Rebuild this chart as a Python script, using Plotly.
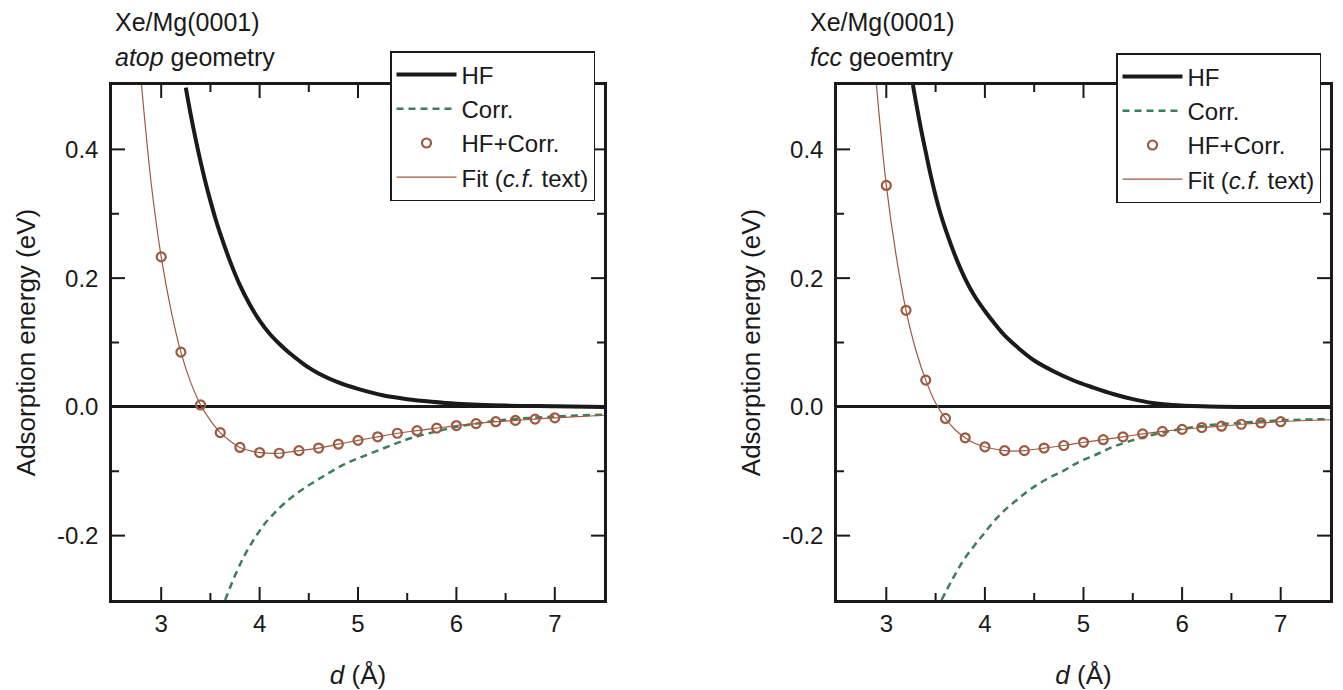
import plotly.graph_objects as go

# ---------------- data ----------------
d_points = [3.0, 3.2, 3.4, 3.6, 3.8, 4.0, 4.2, 4.4, 4.6, 4.8, 5.0,
            5.2, 5.4, 5.6, 5.8, 6.0, 6.2, 6.4, 6.6, 6.8, 7.0]

# atop geometry
atop_total = [0.233, 0.085, 0.003, -0.040, -0.063, -0.071, -0.072, -0.068, -0.064, -0.058, -0.052,
              -0.0465, -0.041, -0.037, -0.033, -0.029, -0.026, -0.023, -0.021, -0.019, -0.017]
atop_fit_d = [2.80, 2.90, 3.0, 3.1, 3.2, 3.3, 3.4, 3.5, 3.6, 3.7, 3.8, 3.9, 4.0, 4.2, 4.4, 4.6, 4.8,
              5.0, 5.2, 5.4, 5.6, 5.8, 6.0, 6.2, 6.4, 6.6, 6.8, 7.0, 7.5]
atop_fit = [0.50, 0.345, 0.233, 0.150, 0.085, 0.038, 0.003, -0.021, -0.040, -0.053, -0.063, -0.068,
            -0.071, -0.072, -0.068, -0.064, -0.058, -0.052, -0.0465, -0.041, -0.037, -0.033,
            -0.029, -0.026, -0.023, -0.021, -0.019, -0.017, -0.013]
atop_hf_d = [3.25, 3.30, 3.35, 3.40, 3.45, 3.50, 3.55, 3.60, 3.70, 3.80, 3.90, 4.00, 4.10, 4.20,
             4.30, 4.40, 4.50, 4.60, 4.80, 5.00, 5.25, 5.50, 5.75, 6.00, 6.50, 7.00, 7.50]
atop_hf = [0.496, 0.454, 0.416, 0.381, 0.349, 0.320, 0.293, 0.269, 0.226, 0.189, 0.159, 0.134,
           0.114, 0.098, 0.084, 0.072, 0.061, 0.052, 0.038, 0.028, 0.018, 0.012, 0.008, 0.005,
           0.002, 0.001, 0.0]
atop_corr_d = [3.65, 3.75, 3.85, 3.95, 4.05, 4.15, 4.25, 4.40, 4.55, 4.70, 4.85, 5.00, 5.20, 5.40,
               5.55, 5.80, 6.00, 6.25, 6.50, 7.00, 7.50]
atop_corr = [-0.300, -0.262, -0.230, -0.204, -0.182, -0.165, -0.150, -0.132, -0.117, -0.103, -0.090,
             -0.080, -0.068, -0.056, -0.048, -0.038, -0.031, -0.025, -0.020, -0.015, -0.012]

# fcc geometry
fcc_total = [0.344, 0.150, 0.0415, -0.018, -0.048, -0.062, -0.068, -0.068, -0.064, -0.060, -0.055,
             -0.051, -0.0465, -0.042, -0.038, -0.035, -0.032, -0.030, -0.027, -0.025, -0.023]
fcc_fit_d = [2.90, 3.0, 3.1, 3.2, 3.3, 3.4, 3.5, 3.6, 3.7, 3.8, 3.9, 4.0, 4.2, 4.4, 4.6, 4.8,
             5.0, 5.2, 5.4, 5.6, 5.8, 6.0, 6.2, 6.4, 6.6, 6.8, 7.0, 7.5]
fcc_fit = [0.50, 0.344, 0.235, 0.150, 0.088, 0.0415, 0.006, -0.018, -0.036, -0.048, -0.057,
           -0.062, -0.068, -0.068, -0.064, -0.060, -0.055, -0.051, -0.0465, -0.042, -0.038,
           -0.035, -0.032, -0.030, -0.027, -0.025, -0.023, -0.020]
fcc_hf_d = [3.27, 3.30, 3.35, 3.40, 3.45, 3.50, 3.55, 3.60, 3.70, 3.80, 3.90, 4.00, 4.10, 4.20,
            4.35, 4.50, 4.70, 4.90, 5.10, 5.30, 5.50, 5.70, 5.90, 6.20, 6.60, 7.50]
fcc_hf = [0.500, 0.474, 0.433, 0.396, 0.360, 0.328, 0.300, 0.276, 0.234, 0.199, 0.171, 0.149,
          0.129, 0.111, 0.090, 0.072, 0.055, 0.041, 0.030, 0.020, 0.012, 0.006, 0.003, 0.001,
          0.0, 0.0]
fcc_corr_d = [3.56, 3.67, 3.78, 3.89, 3.99, 4.09, 4.19, 4.32, 4.46, 4.63, 4.80, 4.96, 5.13, 5.30,
              5.54, 5.80, 6.18, 6.65, 7.00, 7.46]
fcc_corr = [-0.300, -0.268, -0.239, -0.216, -0.197, -0.178, -0.162, -0.145, -0.128, -0.112, -0.099,
            -0.085, -0.074, -0.062, -0.050, -0.040, -0.030, -0.024, -0.021, -0.019]

x_range = [2.5, 7.5]
y_range = [-0.3, 0.5]
x_tickvals = [3, 4, 5, 6, 7]
x_minor_tickvals = [3.5, 4.5, 5.5, 6.5]
y_tickvals = [-0.2, 0.0, 0.2, 0.4]
y_ticktext = ["-0.2", "0.0", "0.2", "0.4"]
y_minor_tickvals = [-0.1, 0.1, 0.3]

names = ["HF", "Corr.", "HF+Corr.", "Fit (<i>c.f.</i> text)"]
title_line1 = ["Xe/Mg(0001)", "Xe/Mg(0001)"]
title_line2 = ["<i>atop</i> geometry", "<i>fcc</i> geoemtry"]

# ---------------- style ----------------
FONT = "Liberation Sans, Arial, Helvetica, sans-serif"
BLACK = "#1a1a1a"
GREEN = "#3d7d5a"
BROWN = "#9e5a40"
MAJOR_LEN, MINOR_LEN = 13, 7

fig = go.Figure()

panels = [
    dict(xa="x", ya="y", leg="legend",
         hf=(atop_hf_d, atop_hf), corr=(atop_corr_d, atop_corr),
         pts=atop_total, fit=(atop_fit_d, atop_fit)),
    dict(xa="x2", ya="y2", leg="legend2",
         hf=(fcc_hf_d, fcc_hf), corr=(fcc_corr_d, fcc_corr),
         pts=fcc_total, fit=(fcc_fit_d, fcc_fit)),
]

for p in panels:
    fig.add_trace(go.Scatter(x=p["hf"][0], y=p["hf"][1], mode="lines", name=names[0],
                             line=dict(color=BLACK, width=4, shape="spline", smoothing=1.0),
                             xaxis=p["xa"], yaxis=p["ya"], legend=p["leg"]))
    fig.add_trace(go.Scatter(x=p["corr"][0], y=p["corr"][1], mode="lines", name=names[1],
                             line=dict(color=GREEN, width=2.5, dash="7px,5px", shape="spline", smoothing=1.0),
                             xaxis=p["xa"], yaxis=p["ya"], legend=p["leg"]))
    fig.add_trace(go.Scatter(x=d_points, y=p["pts"], mode="markers", name=names[2],
                             marker=dict(symbol="circle-open", size=9, color=BROWN,
                                         line=dict(width=2.2, color=BROWN)),
                             xaxis=p["xa"], yaxis=p["ya"], legend=p["leg"]))
    fig.add_trace(go.Scatter(x=p["fit"][0], y=p["fit"][1], mode="lines", name=names[3],
                             line=dict(color=BROWN, width=1.2, shape="spline", smoothing=1.0),
                             xaxis=p["xa"], yaxis=p["ya"], legend=p["leg"]))

    # inside tick marks on all four sides, placed at the tick values through the axes
    tick_line = dict(color=BLACK, width=2)
    for vals, ln in ((x_tickvals, MAJOR_LEN), (x_minor_tickvals, MINOR_LEN)):
        for v in vals:
            for anchor, sgn in ((y_range[0], 1), (y_range[1], -1)):
                fig.add_shape(type="line", xref=p["xa"], yref=p["ya"], x0=v, x1=v,
                              ysizemode="pixel", yanchor=anchor, y0=0, y1=sgn * ln,
                              line=tick_line, layer="above")
    for vals, ln in ((y_tickvals, MAJOR_LEN), (y_minor_tickvals, MINOR_LEN)):
        for v in vals:
            for anchor, sgn in ((x_range[0], 1), (x_range[1], -1)):
                fig.add_shape(type="line", xref=p["xa"], yref=p["ya"], y0=v, y1=v,
                              xsizemode="pixel", xanchor=anchor, x0=0, x1=sgn * ln,
                              line=tick_line, layer="above")

W, H = 1343, 690
x_domains = [[112 / W, 604 / W], [837 / W, 1330 / W]]
y_domain = [(H - 600) / H, (H - 85) / H]

axis_common = dict(showline=True, linecolor=BLACK, linewidth=2.5, mirror=True,
                   ticks="", showgrid=False, tickmode="array",
                   tickfont=dict(family=FONT, size=24, color=BLACK))

layout = dict(width=W, height=H, paper_bgcolor="white", plot_bgcolor="white",
              margin=dict(l=0, r=0, t=0, b=0, autoexpand=False),
              showlegend=True)

for i in range(2):
    kx = "" if i == 0 else "2"
    layout["xaxis" + kx] = dict(axis_common, domain=x_domains[i], range=x_range,
                                anchor="y" + kx, tickvals=x_tickvals, zeroline=False,
                                ticklabelstandoff=0,
                                title=dict(text="<i>d</i> (Å)", standoff=35,
                                           font=dict(family=FONT, size=26, color=BLACK)))
    layout["yaxis" + kx] = dict(axis_common, domain=y_domain, range=y_range,
                                anchor="x" + kx, tickvals=y_tickvals, ticktext=y_ticktext,
                                ticklabelstandoff=6,
                                zeroline=True, zerolinecolor=BLACK, zerolinewidth=2.5,
                                title=dict(text="Adsorption energy (eV)", standoff=14,
                                           font=dict(family=FONT, size=26, color=BLACK)))

legend_common = dict(xanchor="left", yanchor="top", xref="paper", yref="paper",
                     bgcolor="white", bordercolor=BLACK, borderwidth=1.5,
                     itemwidth=60, font=dict(family=FONT, size=24, color=BLACK),
                     tracegroupgap=0)
layout["legend"] = dict(legend_common, x=390 / W, y=1 - 51 / H)
layout["legend2"] = dict(legend_common, x=1116 / W, y=1 - 53 / H)

fig.update_layout(**layout)

title_x = [113 / W, 808 / W]
for i in range(2):
    fig.add_annotation(text=title_line1[i], xref="paper", yref="paper",
                       x=title_x[i], y=1 - 22 / H, xanchor="left", yanchor="middle",
                       showarrow=False, font=dict(family=FONT, size=25, color=BLACK))
    fig.add_annotation(text=title_line2[i], xref="paper", yref="paper",
                       x=title_x[i], y=1 - 57 / H, xanchor="left", yanchor="middle",
                       showarrow=False, font=dict(family=FONT, size=25, color=BLACK))

fig.write_html("out.html")
